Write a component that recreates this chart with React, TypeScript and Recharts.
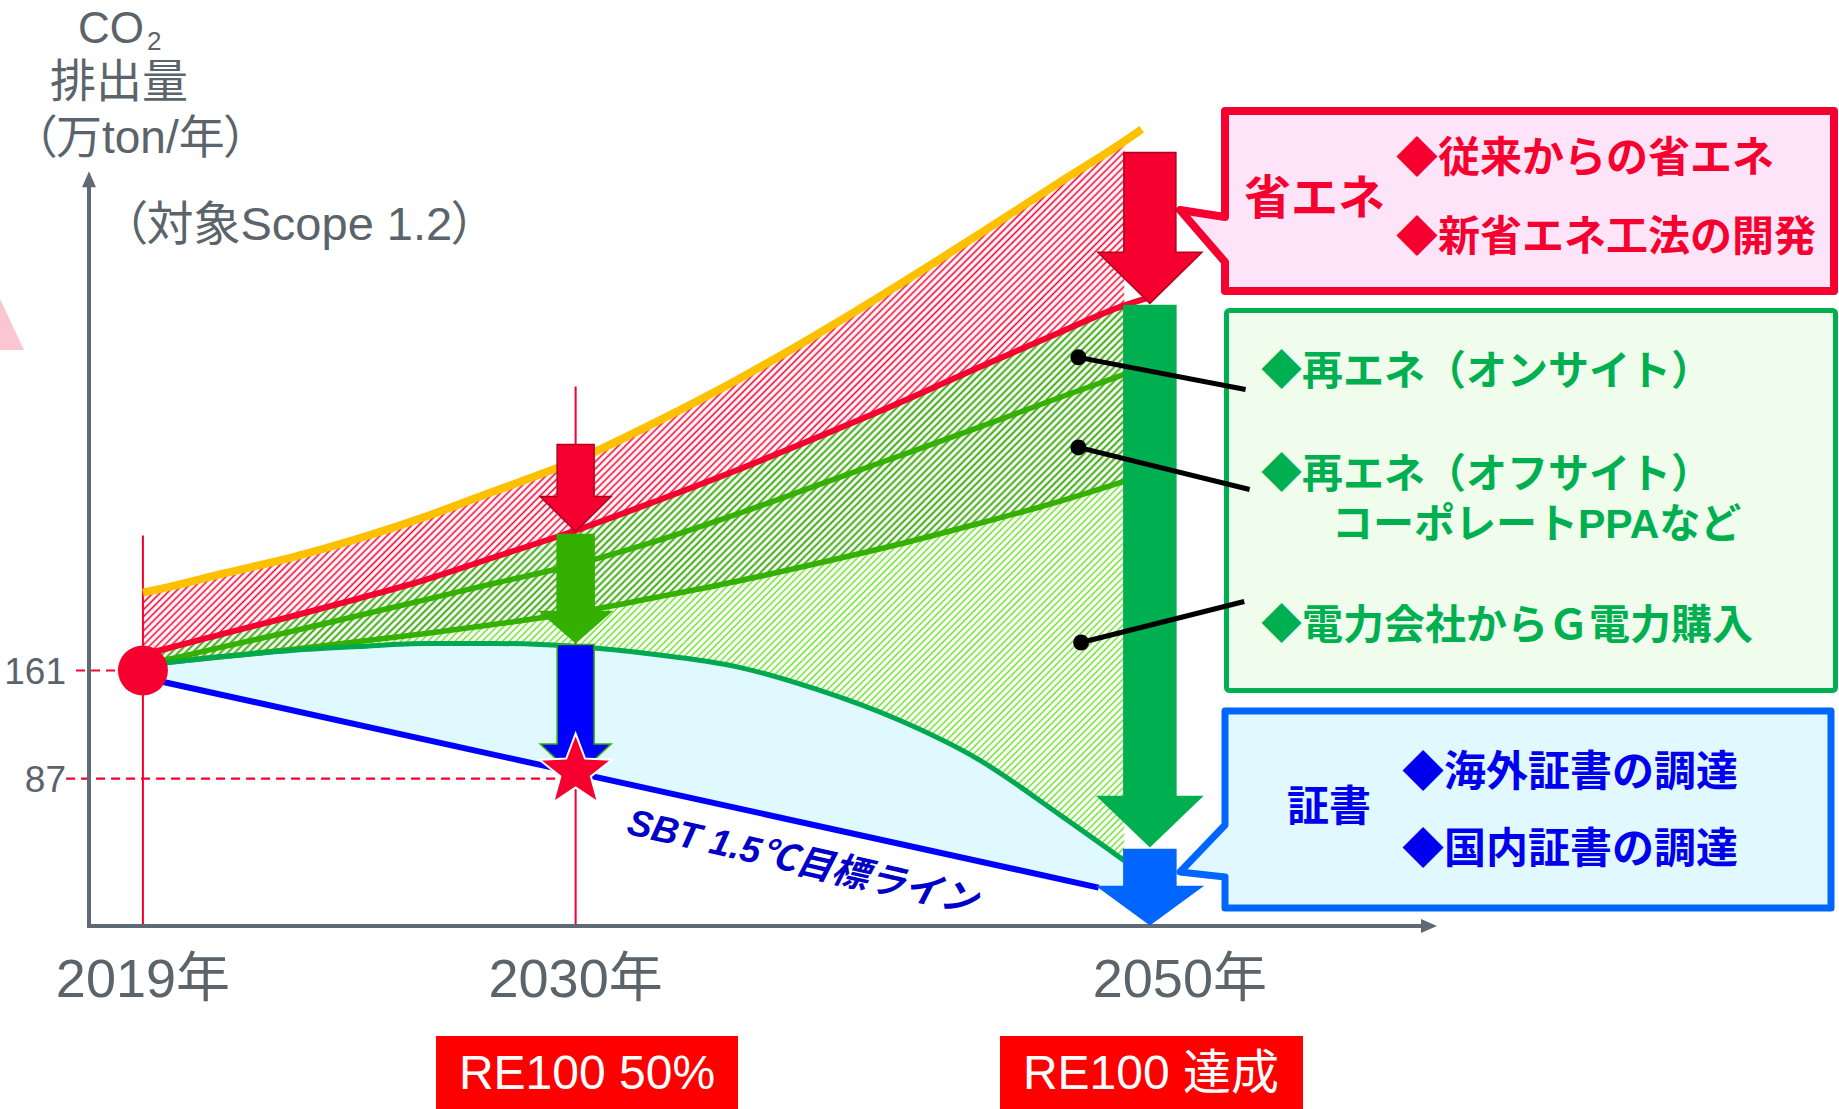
import React from 'react';
import { ComposedChart, Line, Area, XAxis, YAxis, ReferenceLine, ReferenceDot } from 'recharts';

// horizontal position (schematic time axis, 0..100) and values in 万ton/年
const T = [4, 5.8, 10, 15, 20, 25, 30, 36.1, 42, 48, 54, 60, 66, 72, 76.8];
const BAU = [214.4, 217.9, 227.5, 238.4, 251.4, 266.5, 283.6, 304.9, 330.9, 359.7, 391.2, 424.8, 459.7, 495.4, 523.4];
const SAVING = [172.0, 176.1, 186.3, 198.0, 210.3, 223.3, 238.4, 256.9, 276.8, 298.0, 320.6, 343.9, 368.6, 392.6, 411.1];
const ONSITE = [165.1, 168.5, 177.4, 187.7, 198.7, 209.6, 220.6, 233.6, 249.4, 267.9, 287.8, 307.6, 327.5, 348.0, 363.8];
const OFFSITE = [164.4, 166.5, 170.6, 175.4, 180.9, 186.3, 192.5, 200.7, 211.0, 222.0, 234.3, 247.3, 261.7, 276.8, 290.5];
const GREEN_POWER = [165.1, 166.5, 170.6, 174.7, 177.4, 179.5, 179.5, 177.4, 172.0, 163.7, 148.0, 127.4, 100.0, 62.3, 30.8];
const SBT = [156.2, 152.8, 143.9, 134.3, 124.0, 113.7, 103.4, 91.1, 78.8, 67.1, 54.8, 42.5, 30.1, 17.8, 8.2];

const BAU_END = { t: 78.1, v: 531.7 };
const SAVING_END = { t: 78.7, v: 416.6 };
const SBT_LINE = [{ t: 4, v: 156.2 }, { t: 74.9, v: 12.3 }];

const X_TICKS = [4, 36.1, 78.7];
const X_LABELS = ['2019年', '2030年', '2050年'];
const Y_TICKS = [161, 87];

const START = { t: 4, v: 161 };
const TARGET_2030 = { t: 36.1, v: 87 };
const ARROWS_2030 = [[315.8, 256.2], [254.2, 180.2], [178.8, 88]];
const ARROWS_2050 = [[515.9, 412.5], [411.1, 40.4], [38.4, -13]];
const LEADERS = [
  { t: 73.4, v: 375.5, t2: 85.8, v2: 353.5 },
  { t: 73.4, v: 313.8, t2: 86.1, v2: 285.0 },
  { t: 73.6, v: 180.2, t2: 85.7, v2: 208.3 },
];

const LATIN = "'Liberation Sans', Arial, 'Noto Sans CJK JP', sans-serif";
const GRAY = '#5b636b';
const RED = '#f5002f';

const series = (vals: number[], end?: { t: number; v: number }) => {
  const pts = T.map((t, i) => ({ t, v: vals[i] }));
  return end ? [...pts, end] : pts;
};
const band = (lo: number[], hi: number[]) => T.map((t, i) => ({ t, r: [lo[i], hi[i]] }));

const axisArrow = (p: any) => {
  const { x1, y1, x2, y2 } = p;
  const a = Math.atan2(y2 - y1, x2 - x1);
  const L = 16, W = 7;
  const bx = x2 - L * Math.cos(a), by = y2 - L * Math.sin(a);
  const px = -Math.sin(a) * W, py = Math.cos(a) * W;
  return (
    <g>
      <line x1={x1} y1={y1} x2={bx} y2={by} stroke="#5f6a74" strokeWidth={4} strokeLinecap="square" />
      <polygon points={`${x2},${y2} ${bx + px},${by + py} ${bx - px},${by - py}`} fill="#5f6a74" />
    </g>
  );
};

const blockArrow = (bw: number, hw: number, hl: number, fill: string, stroke: string, sw: number) => (p: any) => {
  const { x1, y1, y2 } = p;
  const yh = y2 - hl;
  const pts = [[x1 - bw, y1], [x1 + bw, y1], [x1 + bw, yh], [x1 + hw, yh], [x1, y2], [x1 - hw, yh], [x1 - bw, yh]]
    .map((q) => q.join(',')).join(' ');
  return <polygon points={pts} fill={fill} stroke={stroke} strokeWidth={sw} />;
};

const LOOK_2030 = [
  { fill: RED, stroke: '#b3001f', hl: 35 },
  { fill: '#33b000', stroke: '#33b000', hl: 31 },
  { fill: '#0000ff', stroke: '#33b000', hl: 33 },
];
const LOOK_2050 = [
  { fill: RED, stroke: '#b3001f', hl: 51 },
  { fill: '#00b050', stroke: '#00b050', hl: 50 },
  { fill: '#0066ff', stroke: '#0066ff', hl: 38 },
];

const star = (p: any) => {
  const { cx, cy } = p;
  const c = cy - 7;
  const pts = Array.from({ length: 10 }).map((_, i) => {
    const ang = (-90 + i * 36) * Math.PI / 180;
    const rad = i % 2 ? 16 : 38;
    return `${cx + rad * Math.cos(ang)},${c + rad * Math.sin(ang)}`;
  }).join(' ');
  return <polygon points={pts} fill={RED} stroke="#fff" strokeWidth={2} />;
};

const leader = (p: any) => {
  const { x1, y1, x2, y2 } = p;
  return (
    <g>
      <line x1={x1} y1={y1} x2={x2} y2={y2} stroke="#000" strokeWidth={5} />
      <circle cx={x1} cy={y1} r={8} fill="#000" />
    </g>
  );
};

const sbtLabel = (p: any) => (
  <text x={p.cx} y={p.cy} transform={`rotate(13 ${p.cx} ${p.cy})`} fontSize={37} fontWeight={700}
    fontStyle="italic" fill="#0000c8" fontFamily={LATIN}>SBT 1.5℃目標ライン</text>
);

const renderXTick = (props: any) => {
  const { x, y, payload } = props;
  const i = X_TICKS.indexOf(payload.value);
  const dx = i === 2 ? 30 : 0;
  return (
    <text x={x + dx} y={y + 71} textAnchor="middle" fontSize={54} fill={GRAY} fontFamily={LATIN}>{X_LABELS[i]}</text>
  );
};

const renderYTick = (props: any) => {
  const { x, y, payload } = props;
  return (
    <text x={x - 23} y={y + 13} textAnchor="end" fontSize={37} fill={GRAY} fontFamily={LATIN}>{payload.value}</text>
  );
};

function Overlay() {
  const palt = { fontFeatureSettings: '"palt"' } as React.CSSProperties;
  return (
    <svg width={1839} height={1109} style={{ position: 'absolute', left: 0, top: 0 }}>
      <defs>
        <pattern id="hatchRed" width="5" height="5" patternUnits="userSpaceOnUse" patternTransform="rotate(45)">
          <line x1="2.5" y1="0" x2="2.5" y2="5" stroke={RED} strokeWidth="1.6" />
        </pattern>
        <pattern id="hatchDark" width="5" height="5" patternUnits="userSpaceOnUse" patternTransform="rotate(45)">
          <line x1="2.5" y1="0" x2="2.5" y2="5" stroke="#2fa300" strokeWidth="1.9" />
        </pattern>
        <pattern id="hatchLight" width="4.8" height="4.8" patternUnits="userSpaceOnUse" patternTransform="rotate(45)">
          <line x1="2.4" y1="0" x2="2.4" y2="4.8" stroke="#62de1e" strokeWidth="1.4" />
        </pattern>
      </defs>
      <polygon points="0,299 24,350 0,350" fill="#fbc6d2" />

      <g fontFamily={LATIN} fill={GRAY}>
        <text x={78} y={43} fontSize={44}>CO<tspan dx={3} dy={7} fontSize={26}>2</tspan></text>
        <text x={50} y={97} fontSize={46}>排出量</text>
        <text x={33} y={153} fontSize={46} style={palt}>（万ton/年）</text>
        <text x={123} y={240} fontSize={47} style={palt}>（対象Scope 1.2）</text>
      </g>

      <path d="M1225,111 H1834 V291 H1225 V262 L1180,210 L1225,217 Z" fill="#fde4f8" stroke={RED} strokeWidth={8} strokeLinejoin="round" />
      <g fontFamily={LATIN} fontWeight={700} fill={RED}>
        <text x={1244} y={214} fontSize={47}>省エネ</text>
        <text x={1396} y={172} fontSize={42}>◆従来からの省エネ</text>
        <text x={1396} y={251} fontSize={42}>◆新省エネ工法の開発</text>
      </g>

      <rect x={1226.5} y={310.5} width={609} height={380} rx={3} fill="#f1fdec" stroke="#00b050" strokeWidth={5} />
      <g fontFamily={LATIN} fontWeight={700} fill="#00b050" fontSize={41}>
        <text x={1261} y={385}>◆再エネ（オンサイト）</text>
        <text x={1261} y={488}>◆再エネ（オフサイト）</text>
        <text x={1332} y={538}>コーポレートPPAなど</text>
        <text x={1261} y={639}>◆電力会社からＧ電力購入</text>
      </g>

      <path d="M1225,711 H1831 V908 H1225 V877 L1180,872 L1225,825 Z" fill="#e0f8fe" stroke="#0066ff" strokeWidth={7} strokeLinejoin="round" />
      <g fontFamily={LATIN} fontWeight={700} fill="#0000ee" fontSize={42}>
        <text x={1287} y={821}>証書</text>
        <text x={1402} y={786}>◆海外証書の調達</text>
        <text x={1402} y={863}>◆国内証書の調達</text>
      </g>

      <rect x={436} y={1036} width={302} height={73} fill="#ff0000" />
      <rect x={1000} y={1036} width={303} height={73} fill="#ff0000" />
      <g fontFamily={LATIN} fill="#fff" fontSize={48} textAnchor="middle">
        <text x={587} y={1089}>RE100 50%</text>
        <text x={1151} y={1089}>RE100 達成</text>
      </g>
    </svg>
  );
}

export default function App() {
  return (
    <div style={{ position: 'absolute', left: 0, top: 0, width: 1839, height: 1109, background: '#fff', overflow: 'hidden' }}>
      <Overlay />
      <div style={{ position: 'absolute', left: 0, top: 0 }}>
        <ComposedChart width={1839} height={1109} margin={{ top: 88, right: 402, bottom: 153, left: 0 }}>
          <XAxis dataKey="t" type="number" domain={[0, 100]} ticks={X_TICKS} interval={0} height={30}
            axisLine={false} tickLine={false} tickSize={0} tickMargin={0} tick={renderXTick} allowDataOverflow />
          <YAxis type="number" domain={[-14, 560]} ticks={Y_TICKS} interval={0} width={89}
            axisLine={false} tickLine={false} tickSize={0} tickMargin={0} tick={renderYTick} allowDataOverflow />

          <Area data={band(SBT, GREEN_POWER)} dataKey="r" type="monotone" fill="#e0f8ff" fillOpacity={1} stroke="none" isAnimationActive={false} />
          <Area data={band(GREEN_POWER, OFFSITE)} dataKey="r" type="monotone" fill="url(#hatchLight)" fillOpacity={1} stroke="none" isAnimationActive={false} />
          <Area data={band(OFFSITE, SAVING)} dataKey="r" type="monotone" fill="url(#hatchDark)" fillOpacity={1} stroke="none" isAnimationActive={false} />
          <Area data={band(SAVING, BAU)} dataKey="r" type="monotone" fill="url(#hatchRed)" fillOpacity={1} stroke="none" isAnimationActive={false} />

          <ReferenceLine segment={[{ x: 4, y: 253.5 }, { x: 4, y: -14 }]} stroke={RED} strokeWidth={2} ifOverflow="visible" />
          <ReferenceLine segment={[{ x: 36.1, y: 355.6 }, { x: 36.1, y: -14 }]} stroke={RED} strokeWidth={2} ifOverflow="visible" />
          <ReferenceLine segment={[{ x: -0.96, y: 161 }, { x: 4, y: 161 }]} stroke={RED} strokeWidth={2.2} strokeDasharray="9 6" ifOverflow="visible" />
          <ReferenceLine segment={[{ x: -1.7, y: 87 }, { x: 36.1, y: 87 }]} stroke={RED} strokeWidth={2.2} strokeDasharray="9 6" ifOverflow="visible" />

          <Line data={series(BAU, BAU_END)} dataKey="v" type="monotone" stroke="#ffc000" strokeWidth={8} dot={false} activeDot={false} isAnimationActive={false} />
          <Line data={series(SAVING, SAVING_END)} dataKey="v" type="monotone" stroke={RED} strokeWidth={6} dot={false} activeDot={false} isAnimationActive={false} />
          <Line data={series(ONSITE)} dataKey="v" type="monotone" stroke="#33b000" strokeWidth={5.5} dot={false} activeDot={false} isAnimationActive={false} />
          <Line data={series(OFFSITE)} dataKey="v" type="monotone" stroke="#33b000" strokeWidth={5.5} dot={false} activeDot={false} isAnimationActive={false} />
          <Line data={series(GREEN_POWER)} dataKey="v" type="monotone" stroke="#00a84f" strokeWidth={5} dot={false} activeDot={false} isAnimationActive={false} />
          <Line data={SBT_LINE} dataKey="v" type="linear" stroke="#0000ff" strokeWidth={6} dot={false} activeDot={false} isAnimationActive={false} />

          <ReferenceLine segment={[{ x: 0, y: -14 }, { x: 0, y: 503 }]} shape={axisArrow} ifOverflow="visible" />
          <ReferenceLine segment={[{ x: 0, y: -14 }, { x: 100, y: -14 }]} shape={axisArrow} ifOverflow="visible" />

          {ARROWS_2030.map(([from, to], i) => (
            <ReferenceLine key={`a30-${i}`} segment={[{ x: TARGET_2030.t, y: from }, { x: TARGET_2030.t, y: to }]} ifOverflow="visible"
              shape={blockArrow(18.5, 35.5, LOOK_2030[i].hl, LOOK_2030[i].fill, LOOK_2030[i].stroke, 1.5)} />
          ))}
          {ARROWS_2050.map(([from, to], i) => (
            <ReferenceLine key={`a50-${i}`} segment={[{ x: 78.7, y: from }, { x: 78.7, y: to }]} ifOverflow="visible"
              shape={blockArrow(26, 52, LOOK_2050[i].hl, LOOK_2050[i].fill, LOOK_2050[i].stroke, 1.5)} />
          ))}

          <ReferenceDot x={START.t} y={START.v} r={25} fill={RED} stroke="none" ifOverflow="visible" />
          <ReferenceDot x={TARGET_2030.t} y={TARGET_2030.v} r={30} shape={star} ifOverflow="visible" />
          <ReferenceDot x={39.8} y={49.3} r={1} shape={sbtLabel} ifOverflow="visible" />

          {LEADERS.map((l, i) => (
            <ReferenceLine key={`ld-${i}`} segment={[{ x: l.t, y: l.v }, { x: l.t2, y: l.v2 }]} shape={leader} ifOverflow="visible" />
          ))}
        </ComposedChart>
      </div>
    </div>
  );
}
